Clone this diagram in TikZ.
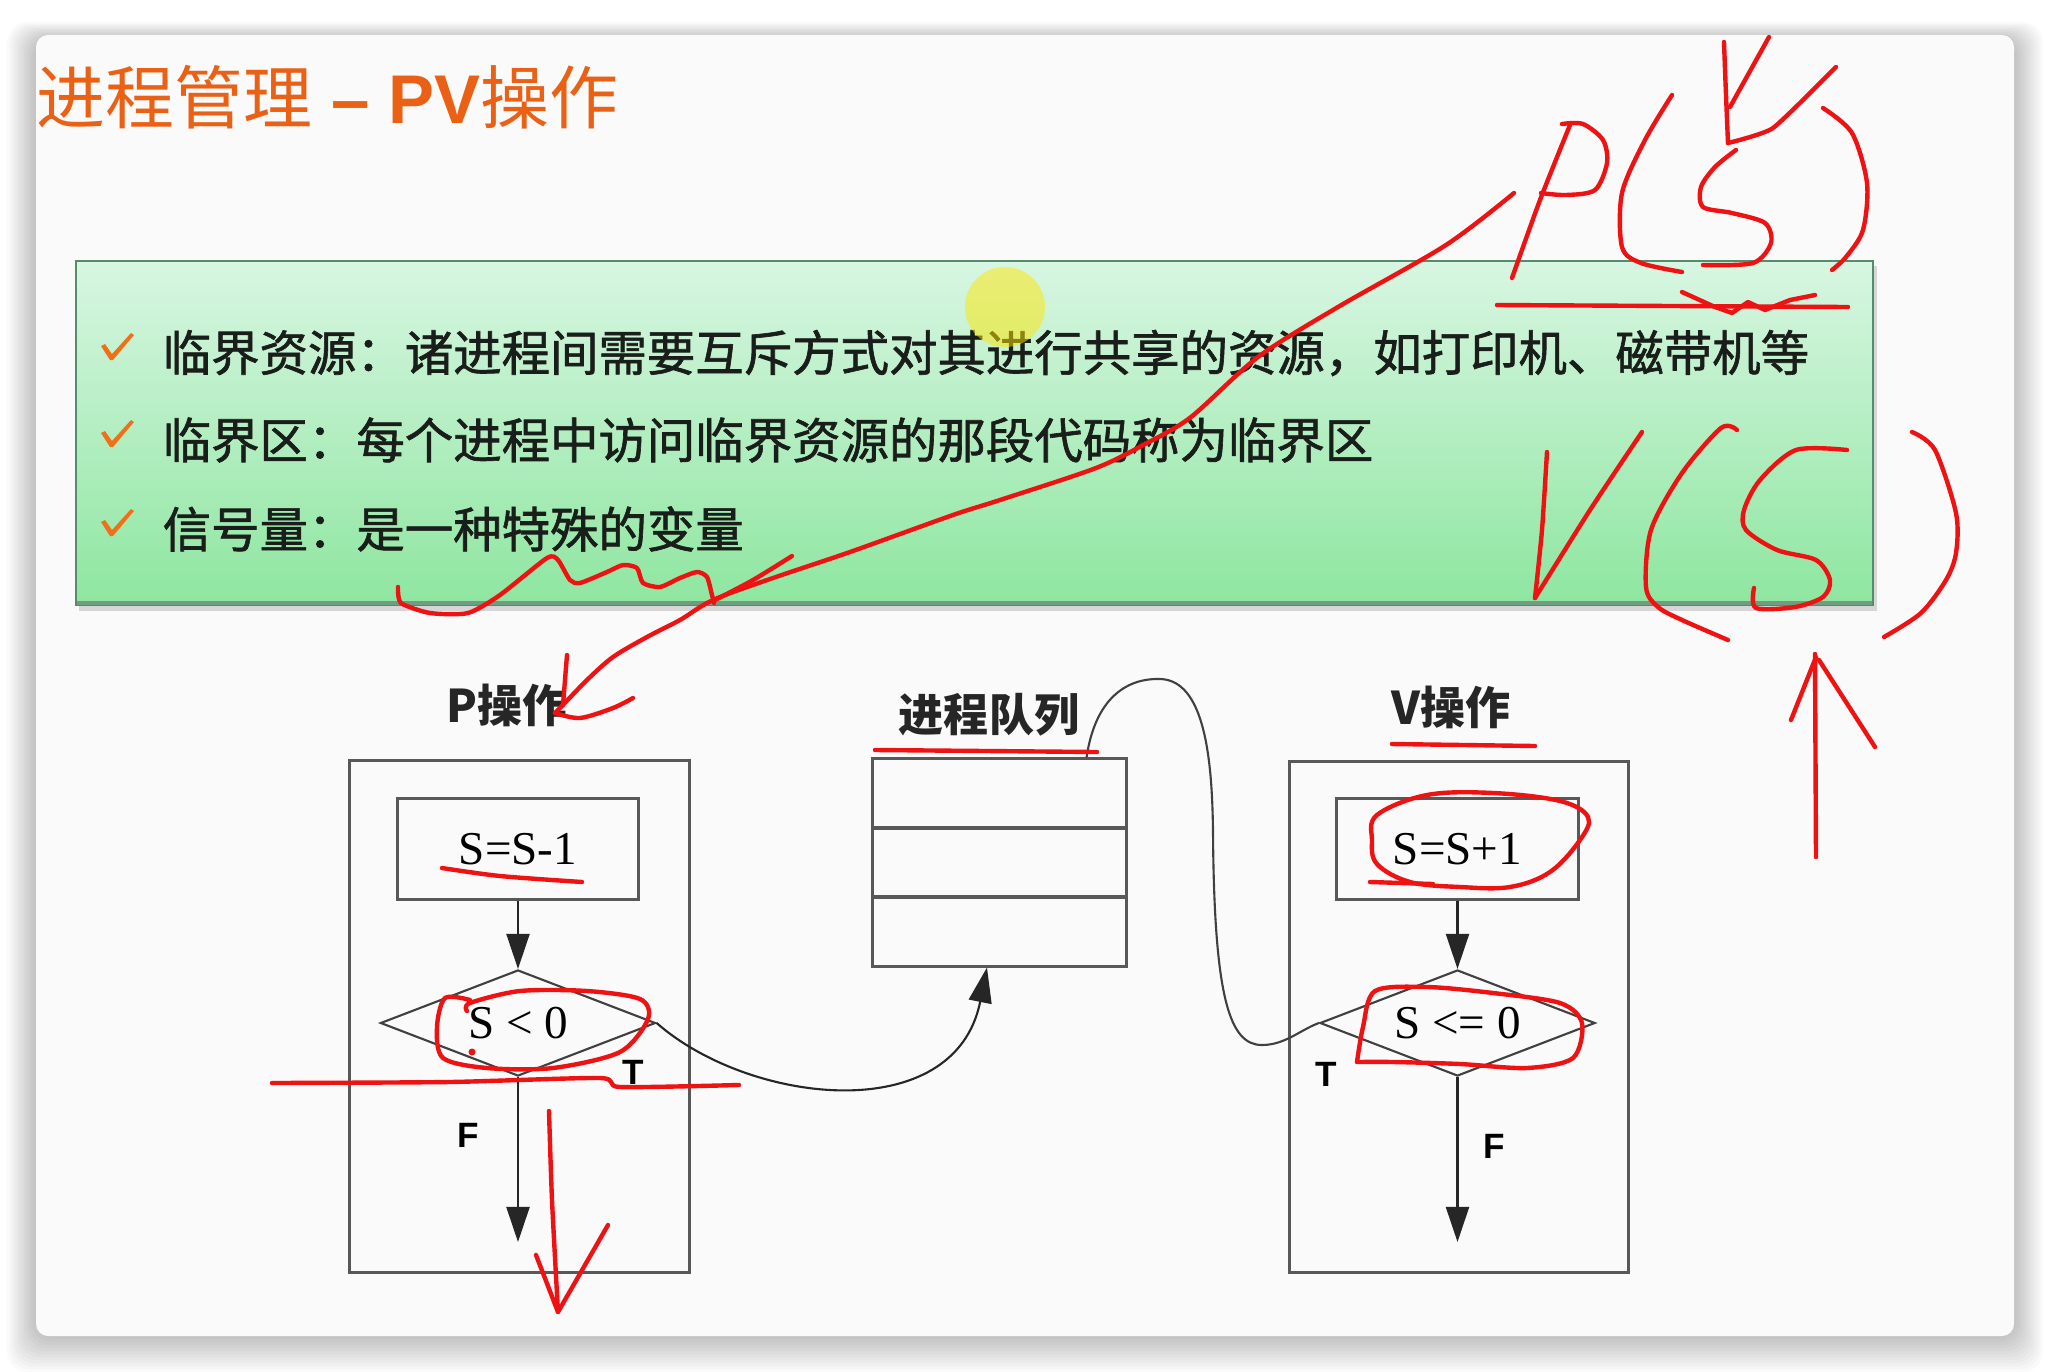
\documentclass[tikz,border=0pt]{standalone}
\usepackage{fontspec}
\setmainfont{Liberation Serif}
\newfontfamily\cjk{Noto Sans CJK SC}
\newfontfamily\cjkheavy{Noto Sans CJK SC}[FakeBold=1.3]
\newfontfamily\arialf{Liberation Sans}
\usetikzlibrary{shapes.geometric,arrows.meta}

\definecolor{titleorange}{RGB}{234,96,20}
\definecolor{checkorange}{RGB}{240,112,24}
\definecolor{inkred}{RGB}{238,18,18}
\definecolor{boxgray}{RGB}{88,88,88}
\definecolor{slidebg}{RGB}{250,250,250}
\definecolor{greentop}{RGB}{216,246,226}
\definecolor{greenbot}{RGB}{142,230,160}
\definecolor{greenedge}{RGB}{84,140,108}
\definecolor{bodytext}{RGB}{26,30,26}

\tikzset{
  frame/.style={draw=boxgray, line width=0.85pt, inner sep=0pt},
  stepbox/.style={frame, minimum width=2.41cm, minimum height=1.0cm,
    font=\fontsize{13.4pt}{15pt}\selectfont},
  decision/.style={draw=black!75, line width=0.6pt, diamond, aspect=2.6,
    inner sep=0pt, minimum width=2.75cm, minimum height=1.06cm,
    font=\fontsize{13.4pt}{15pt}\selectfont},
  flow/.style={draw=black!85, line width=0.6pt,
    -{Triangle[length=0.35cm,width=0.23cm]}},
  link/.style={draw=black!75, line width=0.6pt},
  tflabel/.style={inner sep=0pt, font=\arialf\bfseries\fontsize{10pt}{12pt}\selectfont},
  oplabel/.style={inner sep=0pt, text=black!85, font=\cjk\bfseries\fontsize{12.8pt}{14pt}\selectfont},
  bullet/.style={anchor=west, inner sep=0pt, text=bodytext,
    font=\cjkheavy\fontsize{13.77pt}{16pt}\selectfont},
  ink/.style={draw=inkred, line width=1.25pt, line cap=round, line join=round},
}

\begin{document}
\begin{tikzpicture}[x=0.01cm, y=-0.01cm]
% page
\fill[white] (0,0) rectangle (2050,1372);
\useasboundingbox (0,0) rectangle (2050,1372);

% soft shadow of the slide
\foreach \i in {1,...,12}{
  \fill[black, opacity=0.02, rounded corners=0.2cm]
    (36-\i*2.4, 35-\i*1.4+4) rectangle (2014+\i*2.4, 1336+\i*3.0);
}
\fill[slidebg, rounded corners=0.12cm] (36,35) rectangle (2014,1336);

% title
\node[anchor=west, inner sep=0pt, text=titleorange] (title) at (36,97)
  {\fontsize{19.6pt}{22pt}\selectfont{\cjk 进程管理}{\arialf\bfseries\ –\ PV}{\cjk 操作}};

% green definition panel
\fill[black, opacity=0.14] (79,266) rectangle (1877,611);
\shade[top color=greentop, bottom color=greenbot] (76,261) rectangle (1873,605);
\draw[greenedge, line width=0.6pt] (76,261) rectangle (1873,605);
\draw[greenedge!85, line width=1.4pt] (77,603) -- (1872,603);

\foreach \yc in {353,440,529}{
  \fill[checkorange] (101,\yc-7) -- (105,\yc-9) -- (112,\yc+1) -- (131,\yc-20)
    -- (134,\yc-18) -- (113,\yc+7) -- (110,\yc+7) -- cycle;
}
\node[bullet] (b1) at (162,353) {临界资源：诸进程间需要互斥方式对其进行共享的资源，如打印机、磁带机等};
\node[bullet] (b2) at (162,440) {临界区：每个进程中访问临界资源的那段代码称为临界区};
\node[bullet] (b3) at (162,529) {信号量：是一种特殊的变量};

% pointer highlight
\fill[yellow!90!orange, opacity=0.5] (1005,307) circle[radius=0.4cm];

% ---- P operation ----
\node[oplabel] (Plab) at (507,705) {P操作};
\node[frame, minimum width=3.39cm, minimum height=5.11cm] (Pbox) at (519.5,1016.5) {};
\node[stepbox] (sP) at (518,849) {S=S-1};
\node[decision] (dP) at (518,1023) {S < 0};
\coordinate (Pout) at (518,1242);
\draw[flow] (sP) -- (dP);
\draw[flow] (dP) -- (Pout);
\node[tflabel] (TP) at (633,1072) {T};
\node[tflabel] (FP) at (468,1135) {F};

% ---- process queue ----
\node[oplabel] (Qlab) at (989,715) {进程队列};
\node[frame, minimum width=2.53cm, minimum height=0.69cm] (q1) at (999.5,793.5) {};
\node[frame, minimum width=2.53cm, minimum height=0.69cm] (q2) at (999.5,862.5) {};
\node[frame, minimum width=2.53cm, minimum height=0.69cm] (q3) at (999.5,931.5) {};

% ---- V operation ----
\node[oplabel] (Vlab) at (1451,707) {V操作};
\node[frame, minimum width=3.38cm, minimum height=5.10cm] (Vbox) at (1459,1017) {};
\node[stepbox] (sV) at (1457.5,849) {S=S+1};
\node[decision] (dV) at (1457.5,1023) {S <= 0};
\coordinate (Vout) at (1457.5,1242);
\draw[flow] (sV) -- (dV);
\draw[flow] (dV) -- (Vout);
\node[tflabel] (TV) at (1326,1074) {T};
\node[tflabel] (FV) at (1494,1146) {F};

% connectors between the operations and the queue
\draw[flow] (dP.east) .. controls (750,1105) and (955,1128) .. ([xshift=-0.125cm]q3.south);
\draw[link] ([xshift=-0.41cm]q1.north east) .. controls (1095,700) and (1125,678) .. (1160,679)
  .. controls (1205,680) and (1212,760) .. (1213,830)
  .. controls (1214,1000) and (1230,1045) .. (1262,1045)
  .. controls (1285,1045) and (1300,1030) .. (dV.west);

% ---- red pen notes ----
% long arrow from P(S) down to the P label
\draw[ink] plot[smooth, tension=0.5] coordinates {(1514,193) (1446,245) (1338,307) (1258,357)
  (1191,417) (1147,443) (1096,468) (1000,500) (953,515) (850,552) (773,578) (713,600)
  (680,620) (647,637) (613,657) (587,680) (560,708) (555,713)};
\draw[ink] plot[smooth, tension=0.5] coordinates {(792,556) (753,580) (715,600)};
\draw[ink] plot[smooth, tension=0.5] coordinates {(555,713) (580,718) (613,708) (633,698)};
\draw[ink] plot[smooth, tension=0.5] coordinates {(567,655) (565,680) (563,705)};
% wavy mark under the third line
\draw[ink] plot[smooth, tension=0.4] coordinates {(398,587) (401,603) (430,613) (468,613)
  (500,595) (547,558) (558,560) (570,580) (580,583) (607,572) (623,565) (637,568) (643,583)
  (660,587) (680,578) (697,572) (707,577) (712,595) (714,603)};

% P(S)
\draw[ink] plot[smooth, tension=0.4] coordinates {(1512,278) (1540,200) (1570,125)};
\draw[ink] plot[smooth, tension=0.5] coordinates {(1562,124) (1583,124) (1603,140) (1607,163)
  (1595,190) (1566,195) (1541,193)};
\draw[ink] plot[smooth, tension=0.5] coordinates {(1672,95) (1645,140) (1622,193) (1622,247)
  (1641,263) (1682,272)};
\draw[ink] plot[smooth, tension=0.3] coordinates {(1724,42) (1726,95) (1728,143)};
\draw[ink] plot[smooth, tension=0.3] coordinates {(1728,143) (1773,128) (1836,67)};
\draw[ink] (1769,37) -- (1730,107);
\draw[ink] plot[smooth, tension=0.5] coordinates {(1736,150) (1715,167) (1701,187) (1703,207)
  (1732,213) (1765,223) (1771,243) (1753,263) (1703,265)};
\draw[ink] plot[smooth, tension=0.5] coordinates {(1823,108) (1852,133) (1867,183) (1863,230)
  (1846,257) (1832,270)};
\draw[ink] (1497,305) -- (1848,307);
\draw[ink] (1682,292) -- (1715,307) -- (1732,313) -- (1748,302) -- (1765,310) -- (1790,300) -- (1815,295);

% V(S)
\draw[ink] plot[smooth, tension=0.4] coordinates {(1547,452) (1542,530) (1535,598)};
\draw[ink] plot[smooth, tension=0.4] coordinates {(1535,598) (1590,510) (1642,432)};
\draw[ink] plot[smooth, tension=0.5] coordinates {(1737,430) (1721,428) (1682,473) (1651,530)
  (1646,587) (1658,607) (1682,620) (1728,640)};
\draw[ink] plot[smooth, tension=0.5] coordinates {(1847,450) (1796,450) (1760,480) (1744,510)
  (1746,530) (1777,550) (1816,560) (1830,580) (1823,597) (1795,607) (1756,608) (1754,588)};
\draw[ink] plot[smooth, tension=0.5] coordinates {(1912,432) (1935,450) (1956,513) (1956,553)
  (1946,580) (1921,613) (1884,637)};
\draw[ink] (1816,857) -- (1815,654);
\draw[ink] (1791,720) -- (1816,657);
\draw[ink] (1819,660) -- (1875,747);

% underlines of the labels and the step
\draw[ink] (875,750) -- (1097,752);
\draw[ink] (1392,744) -- (1535,746);
\draw[ink] plot[smooth, tension=0.5] coordinates {(442,868) (500,876) (582,882)};

% marks round the P test
\draw[ink] plot[smooth, tension=0.5] coordinates {(470,1000) (445,998) (437,1027) (443,1058)
  (487,1068) (553,1068) (620,1052) (648,1019) (640,999) (587,991) (520,991) (470,1003) (467,1011)};
\fill[inkred] (472,1052) circle[radius=0.035cm];
\draw[ink] plot[smooth, tension=0.4] coordinates {(272,1083) (450,1082) (600,1078) (620,1087) (739,1085)};
\draw[ink] plot[smooth, tension=0.4] coordinates {(549,1111) (552,1200) (558,1312)};
\draw[ink] (536,1255) -- (558,1312) -- (608,1225);

% marks round the V step and test
\draw[ink] (1433,884) -- (1370,882);
\draw[ink] plot[smooth cycle, tension=0.6] coordinates {(1372,840) (1377,815) (1427,795)
  (1493,793) (1560,801) (1588,817) (1580,840) (1550,872) (1510,887) (1460,887) (1410,882) (1377,864)};
\draw[ink] plot[smooth, tension=0.5] coordinates {(1357,1062) (1363,1027) (1375,991) (1427,987)
  (1493,993) (1560,1003) (1582,1023) (1573,1058) (1527,1068) (1460,1064) (1393,1062) (1357,1062)};
\end{tikzpicture}
\end{document}
